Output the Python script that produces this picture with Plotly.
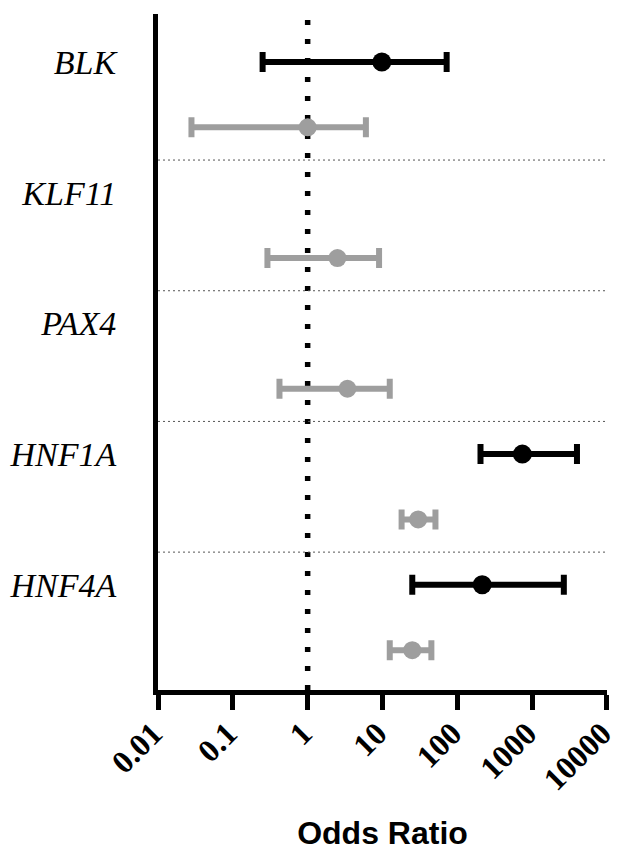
import plotly.graph_objects as go

# ---- data ----
genes = ["BLK", "KLF11", "PAX4", "HNF1A", "HNF4A"]

black_or = [9.8, None, None, 740, 215]
black_lo = [0.25, None, None, 204, 25]
black_hi = [72, None, None, 3970, 2650]

gray_or = [1.0, 2.5, 3.4, 30, 25]
gray_lo = [0.028, 0.29, 0.42, 18, 12.5]
gray_hi = [6.0, 9.0, 12.5, 51, 45]

x_tickvals = [0.01, 0.1, 1, 10, 100, 1000, 10000]
x_ticktext = ["0.01", "0.1", "1", "10", "100", "1000", "10000"]

BLACK = "#000000"
GRAY = "#9e9e9e"

fig = go.Figure()


def add_series(ors, los, his, offset, color, thick, capw, msize):
    xs, ys, plus, minus = [], [], [], []
    for i, (o, lo, hi) in enumerate(zip(ors, los, his)):
        if o is None:
            continue
        xs.append(o)
        ys.append(2 * i + offset)
        plus.append(hi - o)
        minus.append(o - lo)
    fig.add_trace(go.Scatter(
        x=xs, y=ys, mode="markers",
        marker=dict(color=color, size=msize, line=dict(width=0)),
        error_x=dict(type="data", array=plus, arrayminus=minus, symmetric=False,
                     color=color, thickness=thick, width=capw),
        showlegend=False, cliponaxis=False,
    ))


add_series(gray_or, gray_lo, gray_hi, 1, GRAY, 6, 10, 18)
add_series(black_or, black_lo, black_hi, 0, BLACK, 6, 10, 19)

# reference line at OR = 1
fig.add_shape(type="line", xref="x", yref="paper", x0=1, x1=1, y0=0, y1=1,
              line=dict(color=BLACK, width=5.5, dash="5px,14px"), layer="below")

# group separators
for i in range(1, len(genes)):
    fig.add_shape(type="line", xref="paper", yref="y", x0=0, x1=1,
                  y0=2 * i - 0.5, y1=2 * i - 0.5,
                  line=dict(color="#555555", width=1, dash="2px,3px"), layer="below")

n_rows = 2 * len(genes)
fig.update_layout(
    width=621, height=851,
    margin=dict(l=158, r=14, t=14, b=161),
    paper_bgcolor="white", plot_bgcolor="white",
    xaxis=dict(
        type="log", range=[-2, 4.0001], automargin=False,
        tickvals=x_tickvals, ticktext=x_ticktext, tickangle=-45,
        ticklabeloverflow="allow", ticklabelstandoff=-8, ticklabelshift=-5,
        tickfont=dict(family="Liberation Serif", size=32, color=BLACK, weight="bold"),
        ticks="outside", ticklen=15, tickwidth=5, tickcolor=BLACK,
        showline=True, linewidth=5, linecolor=BLACK,
        showgrid=False, zeroline=False,
        title=dict(text="<b>Odds Ratio</b>", standoff=52,
                   font=dict(family="Liberation Sans", size=32, color=BLACK)),
    ),
    yaxis=dict(
        range=[n_rows - 1 + 0.61, -0.735], automargin=False,
        tickvals=[2 * i for i in range(len(genes))],
        ticktext=["<i>%s</i>" % g for g in genes],
        tickfont=dict(family="Liberation Serif", size=34, color=BLACK),
        ticks="", ticklabelstandoff=30,
        showline=True, linewidth=5, linecolor=BLACK,
        showgrid=False, zeroline=False,
    ),
)

fig.write_html(
    "out.html",
    config={"responsive": False, "displayModeBar": False},
    post_script="document.body.style.margin='0';document.body.style.overflow='hidden';",
)
